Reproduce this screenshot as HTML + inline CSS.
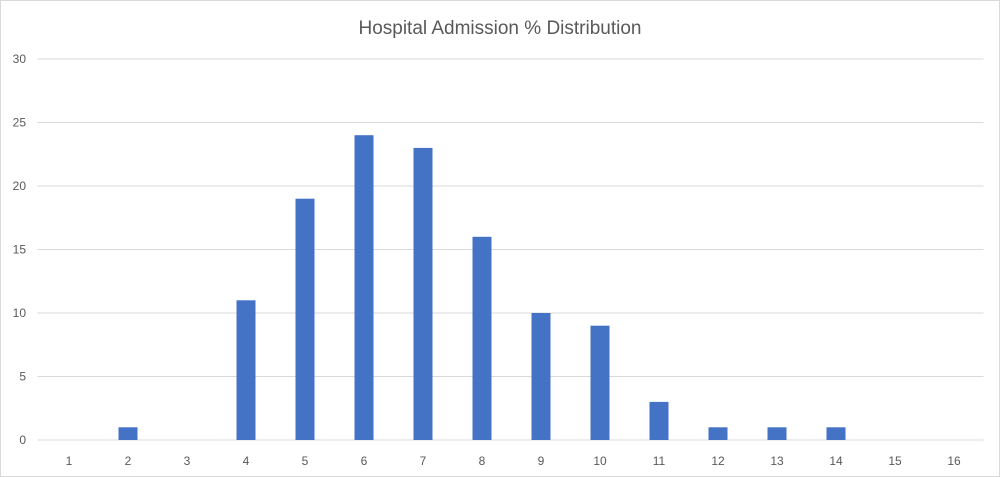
<!DOCTYPE html>
<html><head><style>
body{margin:0;background:#fff;}
svg{display:block;font-family:"Liberation Sans",sans-serif;}
</style></head><body>
<svg id="chart" width="1000" height="477">
<rect x="0.5" y="0.5" width="999" height="476" fill="#fff" stroke="#d9d9d9"/>
<text x="500" y="34" text-anchor="middle" font-size="19" fill="#595959">Hospital Admission % Distribution</text>
<g id="grid"></g><g id="bars"></g><g id="xlabels"></g>
</svg>
<script>
const categories=["1","2","3","4","5","6","7","8","9","10","11","12","13","14","15","16"];
const values=[0,1,0,11,19,24,23,16,10,9,3,1,1,1,0,0];
const yTicks=[0,5,10,15,20,25,30];
const ns="http://www.w3.org/2000/svg";
const plotLeft=39.5,plotRight=983.5,plotTop=59,plotBottom=440,yMax=30;
const band=(plotRight-plotLeft)/categories.length;
const yScale=v=>plotBottom-(v/yMax)*(plotBottom-plotTop);
const xc=i=>plotLeft+band*(i+0.5);
function mk(t,a,p){const e=document.createElementNS(ns,t);for(const k in a)e.setAttribute(k,a[k]);p.appendChild(e);return e;}
const g=document.getElementById('grid');
yTicks.forEach(t=>{
 const l=mk('line',{x1:plotLeft-2,x2:plotRight,y1:yScale(t),y2:yScale(t),stroke:'#d9d9d9','stroke-width':1},g);
 
 
 const tx=mk('text',{x:26,y:yScale(t)+4,'text-anchor':'end','font-size':12,fill:'#595959'},g);
 tx.textContent=t;
 
 
});
const b=document.getElementById('bars'),xl=document.getElementById('xlabels');
categories.forEach((c,i)=>{
 const h=plotBottom-yScale(values[i]);
 if(values[i]>0){
  const r=mk('rect',{x:xc(i)-9.5,y:yScale(values[i]),width:19,height:h,fill:'#4472c4'},b);
  
  
 }
 const t=mk('text',{x:xc(i),y:465,'text-anchor':'middle','font-size':12,fill:'#595959'},xl);
 t.textContent=c;
 
 
});
</script>
</body></html>
